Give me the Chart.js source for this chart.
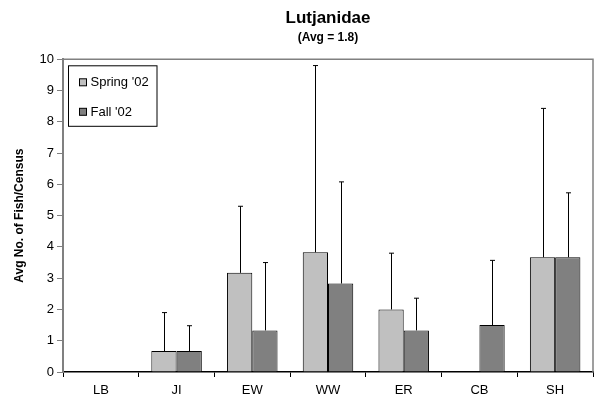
<!DOCTYPE html>
<html>
<head>
<meta charset="utf-8">
<script src="https://cdn.jsdelivr.net/npm/chart.js@4.4.1/dist/chart.umd.min.js"></script>
<style>
  html, body { margin: 0; padding: 0; background: #fff; }
  #wrap { width: 595px; height: 400px; }
</style>
</head>
<body>
<div id="wrap"><canvas id="lutjChart" width="595" height="400"></canvas></div>
<script>
// sites and mean counts per season
const categories = ["LB", "JI", "EW", "WW", "ER", "CB", "SH"];
const springMeans = [0, 0.67, 3.17, 3.83, 2.0, 0, 3.67];
const fallMeans = [0, 0.67, 1.33, 2.83, 1.33, 1.5, 3.67];
// upper error (SD) above each mean
const springErr = [0, 1.23, 2.13, 5.97, 1.8, 0, 4.76];
const fallErr = [0, 0.81, 2.17, 3.25, 1.03, 2.07, 2.06];
const yTicks = [0, 1, 2, 3, 4, 5, 6, 7, 8, 9, 10];

const FONT = "'Liberation Sans', Arial, sans-serif";
Chart.defaults.font.family = FONT;
Chart.defaults.color = "#000";

// one-sided error bars drawn from the bar top upward
const errorBars = {
  id: "errorBars",
  afterDatasetsDraw(chart) {
    const ctx = chart.ctx;
    const y = chart.scales.y;
    chart.data.datasets.forEach((ds, i) => {
      const meta = chart.getDatasetMeta(i);
      meta.data.forEach((bar, j) => {
        const err = ds.errors[j];
        if (!err) return;
        const top = y.getPixelForValue(ds.data[j] + err);
        const x = Math.round(bar.x) + 0.5;
        ctx.save();
        ctx.strokeStyle = "#000";
        ctx.lineWidth = 1;
        ctx.beginPath();
        ctx.moveTo(x, bar.y);
        ctx.lineTo(x, top);
        ctx.moveTo(x - 2.5, top);
        ctx.lineTo(x + 2.5, top);
        ctx.stroke();
        ctx.restore();
      });
    });
  }
};

// top and right edges of the plot frame
const plotFrame = {
  id: "plotFrame",
  beforeDatasetsDraw(chart) {
    const { ctx, chartArea: a } = chart;
    ctx.save();
    ctx.strokeStyle = "#808080";
    ctx.lineWidth = 1.5;
    ctx.beginPath();
    ctx.moveTo(a.left, a.top);
    ctx.lineTo(a.right, a.top);
    ctx.lineTo(a.right, a.bottom);
    ctx.stroke();
    ctx.restore();
  }
};

// boxed legend in the upper left of the plot
const boxLegend = {
  id: "boxLegend",
  afterDraw(chart) {
    const { ctx, chartArea: a } = chart;
    const bx = a.left + 5.5, by = a.top + 6.5, bw = 88.5, bh = 60.5;
    ctx.save();
    ctx.fillStyle = "#fff";
    ctx.fillRect(bx, by, bw, bh);
    ctx.strokeStyle = "#000";
    ctx.lineWidth = 1;
    ctx.strokeRect(bx, by, bw, bh);
    ctx.font = "13px " + FONT;
    ctx.textBaseline = "middle";
    chart.data.datasets.forEach((ds, i) => {
      const cy = by + 16.5 + i * 29.5;
      ctx.fillStyle = ds.backgroundColor;
      ctx.fillRect(bx + 11, cy - 3.5, 7, 7);
      ctx.strokeRect(bx + 11, cy - 3.5, 7, 7);
      ctx.fillStyle = "#000";
      ctx.fillText(ds.label, bx + 22, cy + 0.5);
    });
    ctx.restore();
  }
};

new Chart(document.getElementById("lutjChart"), {
  type: "bar",
  data: {
    labels: categories,
    datasets: [
      {
        label: "Spring '02",
        data: springMeans,
        errors: springErr,
        backgroundColor: "#c0c0c0",
        borderColor: "#000",
        borderWidth: 1
      },
      {
        label: "Fall '02",
        data: fallMeans,
        errors: fallErr,
        backgroundColor: "#808080",
        borderColor: "#000",
        borderWidth: 1
      }
    ]
  },
  options: {
    responsive: false,
    animation: false,
    devicePixelRatio: 1,
    layout: { padding: { left: 0, right: 2, top: 0, bottom: 0 } },
    datasets: {
      bar: { categoryPercentage: 0.667, barPercentage: 1.0 }
    },
    scales: {
      x: {
        grid: { offset: true, drawOnChartArea: false, tickLength: 5, color: "#000" },
        border: { color: "#000", width: 1.5 },
        ticks: { font: { size: 13 }, padding: 6, color: "#000" },
        afterFit(scale) { scale.height = 28; }
      },
      y: {
        min: 0,
        max: 10,
        afterBuildTicks(scale) { scale.ticks = yTicks.map(v => ({ value: v })); },
        grid: { drawOnChartArea: false, tickLength: 6, color: "#808080" },
        border: { color: "#808080", width: 2 },
        ticks: { font: { size: 13 }, padding: 3, color: "#000" },
        title: {
          display: true,
          text: "Avg No. of Fish/Census",
          font: { size: 12, weight: "bold" },
          padding: { top: 12, bottom: 0 },
          color: "#000"
        },
        afterFit(scale) { scale.width = 63; }
      }
    },
    plugins: {
      legend: { display: false },
      tooltip: { enabled: false },
      title: {
        display: true,
        fullSize: false,
        text: "Lutjanidae",
        font: { size: 17, weight: "bold" },
        padding: { top: 8, bottom: 0 },
        color: "#000"
      },
      subtitle: {
        display: true,
        fullSize: false,
        text: "(Avg = 1.8)",
        font: { size: 12, weight: "bold" },
        padding: { top: 2, bottom: 14.5 },
        color: "#000"
      }
    }
  },
  plugins: [plotFrame, errorBars, boxLegend]
});
</script>
</body>
</html>
